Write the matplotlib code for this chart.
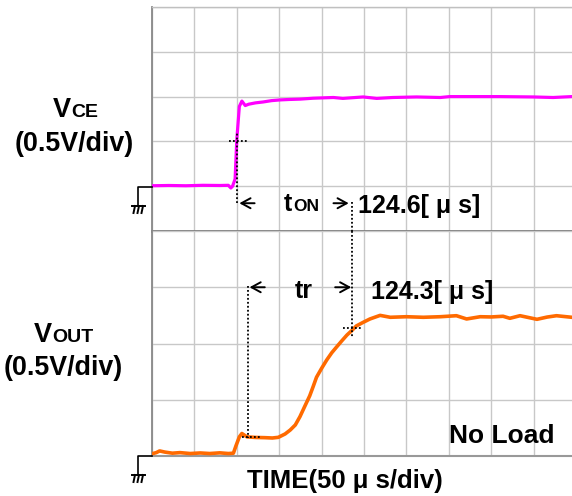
import numpy as np
import matplotlib
matplotlib.use("Agg")
import matplotlib.pyplot as plt
import matplotlib.transforms as mtransforms
from matplotlib.lines import Line2D

plt.rcParams['font.family'] = ['Liberation Sans', 'DejaVu Sans']
plt.rcParams['font.weight'] = 'bold'

# %% data read off the scope shot (time in us, voltage in V)
vce_t = [0, 20, 40, 60, 80, 90, 93, 95, 98, 100, 103, 106, 110, 114, 122, 131, 141, 151,
         162, 175, 190, 214, 225, 249, 265, 284, 312, 340, 351, 380, 410, 430, 450, 473, 495]
vce_v = [0.005, 0.008, 0.005, 0.01, 0.008, 0.01, -0.02, 0.0, 0.08, 0.52, 0.89, 0.95, 0.90,
         0.915, 0.93, 0.94, 0.955, 0.963, 0.968, 0.972, 0.982, 0.99, 0.98, 0.996, 0.98,
         0.99, 0.996, 0.99, 1.0, 1.0, 1.0, 0.998, 0.996, 0.99, 1.0]

vout_t = [0, 5, 9, 15, 24, 33, 45, 57, 68, 80, 90, 96, 99, 103, 106, 109, 112, 122, 133,
          142, 149, 157, 163, 169, 174.5, 180, 186, 190, 194, 200, 206, 212, 218, 224, 230,
          235.5, 241, 249, 257, 269, 281, 300, 320, 340, 359, 371, 387, 400, 414, 422, 434,
          454, 466, 477, 495]
vout_v = [0.02, 0.03, 0.045, 0.035, 0.025, 0.03, 0.022, 0.027, 0.022, 0.028, 0.022, 0.025,
          0.09, 0.17, 0.20, 0.185, 0.17, 0.165, 0.163, 0.16, 0.166, 0.196, 0.231, 0.276,
          0.350, 0.439, 0.535, 0.616, 0.7, 0.779, 0.853, 0.918, 0.972, 1.025, 1.076,
          1.114, 1.156, 1.188, 1.218, 1.25, 1.233, 1.238, 1.233, 1.238, 1.247, 1.218,
          1.238, 1.236, 1.242, 1.224, 1.247, 1.215, 1.235, 1.247, 1.233]

# cursors
ton_start_t, ton_start_v = 100, [-0.19, 0.61]
ton_cross_t, ton_cross_v = [91, 112], 0.5
end_t = 236
end_top_v = [-0.18, -0.5]
end_bot_v = [2.0, 1.06]
end_cross_t, end_cross_v = [225, 248], 1.14
tr_start_t, tr_start_v = 113, [1.51, 0.16]
tr_cross_t, tr_cross_v = [106, 127], 0.17

ton_label = "124.6[ \u03bc s]"
tr_label = "124.3[ \u03bc s]"

W, H = 572, 496
fig = plt.figure(figsize=(W / 100, H / 100), dpi=100)
px = mtransforms.Affine2D().scale(1 / W, -1 / H).translate(0, 1) + fig.transFigure

left, right = 152 / W, 1.0
ax1 = fig.add_axes([left, 1 - 231 / H, right - left, 224 / H])
ax2 = fig.add_axes([left, 1 - 456 / H, right - left, 225 / H])

grid_c = '#c8c8c8'
for ax in (ax1, ax2):
    ax.set_xlim(0, 495.3)
    ax.set_xticks(np.arange(0, 500, 50))
    ax.tick_params(length=0, labelbottom=False, labelleft=False)
    ax.grid(True, color=grid_c, lw=1.0)
    ax.set_axisbelow(True)
    ax.spines['right'].set_visible(False)
    ax.spines['left'].set_color('#888888')
    ax.spines['left'].set_linewidth(1.3)

ax1.set_ylim(-0.5, 2.0)
ax1.set_yticks(np.arange(-0.5, 2.01, 0.5))
ax1.spines['top'].set_color('#c0c0c0')
ax1.spines['top'].set_linewidth(1.0)
ax1.spines['bottom'].set_color('#808080')
ax1.spines['bottom'].set_linewidth(2.0)

ax2.set_ylim(0, 2.0)
ax2.set_yticks(np.arange(0, 2.01, 0.5))
ax2.spines['top'].set_visible(False)
ax2.spines['bottom'].set_color('#999999')
ax2.spines['bottom'].set_linewidth(1.5)

ax1.plot(vce_t, vce_v, color='#ff00ff', lw=2.3, zorder=3, solid_joinstyle='round')
ax2.plot(vout_t, vout_v, color='#ff6a00', lw=2.6, zorder=3, solid_joinstyle='round')

dot = dict(color='black', lw=1.3, ls=(0, (1, 1.2)), zorder=4)
ax1.plot([ton_start_t] * 2, ton_start_v, **dot)
ax1.plot(ton_cross_t, [ton_cross_v] * 2, **dot)
ax1.plot([end_t] * 2, end_top_v, clip_on=False, **dot)
ax2.plot([end_t] * 2, end_bot_v, clip_on=False, **dot)
ax2.plot(end_cross_t, [end_cross_v] * 2, **dot)
ax2.plot([tr_start_t] * 2, tr_start_v, **dot)
ax2.plot(tr_cross_t, [tr_cross_v] * 2, **dot)

arrow = dict(arrowstyle='->,head_length=0.55,head_width=0.3', lw=1.4, color='black',
             mutation_scale=12, shrinkA=0, shrinkB=0)
ax1.annotate('', xy=(103, -0.19), xytext=(121, -0.19), arrowprops=arrow)
ax1.annotate('', xy=(232, -0.19), xytext=(214, -0.19), arrowprops=arrow)
ax2.annotate('', xy=(115, 1.50), xytext=(133, 1.50), arrowprops=arrow)
ax2.annotate('', xy=(235, 1.50), xytext=(216, 1.50), arrowprops=arrow)

# texts in pixel coordinates
def txt(x, y, s, size, **kw):
    fig.text(x, y, s, transform=px, fontsize=size, fontweight='bold', va='baseline', **kw)

txt(292, 211, "t", 18, ha='right')
txt(293, 211, "ON", 12.5, ha='left')
txt(358, 213, ton_label, 18, ha='left')
txt(304, 298, "tr", 18, ha='center')
txt(371, 299, tr_label, 18, ha='left')
txt(345, 488, "TIME(50 \u03bc s/div)", 18.5, ha='center')
txt(502, 443, "No Load", 19, ha='center')

txt(71, 117, "V", 19.5, ha='right')
txt(71, 117, "CE", 14, ha='left')
txt(74, 151, "(0.5V/div)", 19.3, ha='center')
txt(52, 342, "V", 19.5, ha='right')
txt(52, 342, "OUT", 14, ha='left')
txt(63, 375, "(0.5V/div)", 19.3, ha='center')

# ground markers
for gy in (187, 456):
    fig.add_artist(Line2D([152, 138, 138], [gy, gy, gy + 19], transform=px, color='black', lw=1.2))
    fig.add_artist(Line2D([132, 145], [gy + 19, gy + 19], transform=px, color='black', lw=1.4))
    for gx in (135, 139, 143):
        fig.add_artist(Line2D([gx, gx - 1.5], [gy + 19, gy + 26], transform=px, color='black', lw=1.4))

fig.savefig("out.png", dpi=100)
